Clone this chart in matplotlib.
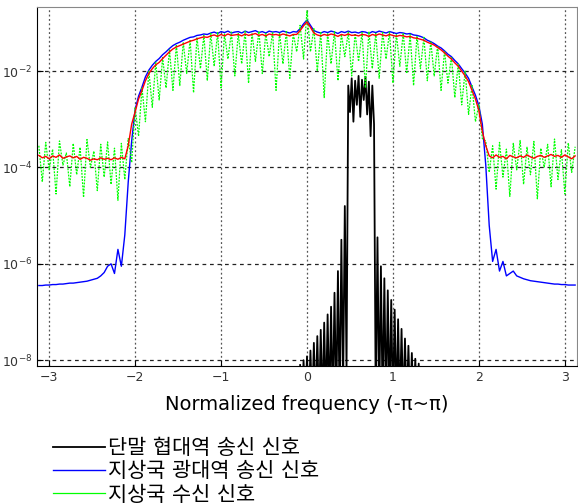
# -*- coding: utf-8 -*-
"""
Spectrum of the narrowband terminal signal, the wideband ground station
signal and the received signal (log scale, normalized frequency).
"""

import numpy as np
import matplotlib.pyplot as plt

plt.rcParams['font.family'] = ['DejaVu Sans', 'Noto Sans CJK KR']

# --- Data (log10 of the power spectral density) --------------------------
# common frequency grid for the wideband traces, -3.12 .. 3.12 step 0.04
freq = np.round(np.arange(157) * 0.04 - 3.12, 2)

blue_log = [
    -6.45, -6.45, -6.44, -6.44, -6.43, -6.43, -6.42, -6.42, -6.41, -6.40,
    -6.40, -6.39, -6.38, -6.37, -6.36, -6.34, -6.32, -6.30, -6.25, -6.18,
    -6.05, -6.00, -6.20, -5.70, -6.05, -5.40, -4.30, -3.45, -2.80, -2.52,
    -2.33, -2.12, -1.98, -1.88, -1.80, -1.74, -1.66, -1.60, -1.53, -1.47,
    -1.43, -1.40, -1.36, -1.33, -1.30, -1.29, -1.26, -1.25, -1.23, -1.24,
    -1.21, -1.19, -1.22, -1.18, -1.20, -1.17, -1.21, -1.19, -1.18, -1.21,
    -1.17, -1.20, -1.18, -1.16, -1.20, -1.18, -1.21, -1.17, -1.19, -1.18,
    -1.20, -1.17, -1.19, -1.21, -1.18, -1.19, -1.12, -1.02, -0.94, -1.05,
    -1.16, -1.19, -1.21, -1.18, -1.20, -1.17, -1.19, -1.22, -1.18, -1.20,
    -1.17, -1.20, -1.19, -1.21, -1.18, -1.19, -1.22, -1.18, -1.20, -1.17,
    -1.19, -1.21, -1.18, -1.20, -1.22, -1.20, -1.21, -1.23, -1.22, -1.25,
    -1.26, -1.28, -1.31, -1.36, -1.39, -1.43, -1.48, -1.52, -1.58, -1.65,
    -1.70, -1.78, -1.85, -1.95, -2.04, -2.15, -2.33, -2.50, -2.72, -3.10,
    -3.95, -5.20, -5.95, -5.70, -6.15, -5.95, -6.25, -6.20, -6.15, -6.25,
    -6.28, -6.31, -6.33, -6.35, -6.36, -6.37, -6.38, -6.39, -6.40, -6.41,
    -6.42, -6.42, -6.43, -6.43, -6.44, -6.44, -6.44,
]

red_log = [
    -3.75, -3.80, -3.77, -3.82, -3.76, -3.79, -3.74, -3.81, -3.78, -3.76,
    -3.80, -3.77, -3.83, -3.79, -3.81, -3.85, -3.82, -3.84, -3.80, -3.83,
    -3.81, -3.84, -3.80, -3.83, -3.79, -3.82, -3.55, -3.10, -2.85, -2.58,
    -2.40, -2.20, -2.05, -1.95, -1.87, -1.82, -1.74, -1.67, -1.60, -1.54,
    -1.50, -1.47, -1.44, -1.41, -1.38, -1.36, -1.33, -1.31, -1.29, -1.30,
    -1.27, -1.25, -1.28, -1.24, -1.27, -1.23, -1.26, -1.25, -1.24, -1.27,
    -1.23, -1.26, -1.24, -1.22, -1.26, -1.24, -1.27, -1.23, -1.25, -1.24,
    -1.26, -1.23, -1.25, -1.27, -1.24, -1.24, -1.16, -1.06, -0.98, -1.09,
    -1.21, -1.25, -1.27, -1.24, -1.26, -1.23, -1.25, -1.28, -1.24, -1.26,
    -1.23, -1.26, -1.25, -1.27, -1.24, -1.25, -1.28, -1.24, -1.26, -1.23,
    -1.25, -1.27, -1.24, -1.26, -1.28, -1.26, -1.27, -1.29, -1.28, -1.31,
    -1.32, -1.34, -1.36, -1.40, -1.43, -1.46, -1.51, -1.56, -1.62, -1.69,
    -1.75, -1.83, -1.90, -2.00, -2.10, -2.22, -2.40, -2.58, -2.82, -3.25,
    -3.55, -3.76, -3.80, -3.74, -3.79, -3.77, -3.82, -3.75, -3.78, -3.80,
    -3.76, -3.79, -3.74, -3.78, -3.81, -3.77, -3.75, -3.79, -3.76, -3.73,
    -3.77, -3.75, -3.79, -3.74, -3.78, -3.82, -3.76,
]

green_log = [
    -3.55, -4.30, -3.48, -4.05, -3.62, -4.55, -3.45, -3.95, -3.70, -4.40,
    -3.50, -4.15, -3.58, -4.62, -3.42, -4.00, -3.66, -4.48, -3.52, -4.20,
    -3.47, -4.35, -3.60, -4.68, -3.50, -4.25, -3.40, -3.90, -2.75, -3.35,
    -2.35, -3.05, -2.00, -2.75, -1.82, -2.60, -1.72, -2.35, -1.56, -2.40,
    -1.45, -2.30, -1.40, -2.05, -1.35, -2.45, -1.30, -1.95, -1.26, -2.20,
    -1.22, -1.90, -1.20, -2.35, -1.23, -1.75, -1.19, -2.10, -1.22, -1.85,
    -1.18, -2.25, -1.21, -1.80, -1.17, -2.05, -1.22, -1.70, -1.19, -2.40,
    -1.20, -1.85, -1.18, -2.15, -1.22, -1.60, -1.05, -1.75, -0.75, -1.60,
    -1.12, -2.00, -1.20, -2.55, -1.21, -1.85, -1.18, -2.20, -1.23, -1.70,
    -1.19, -2.10, -1.22, -1.80, -1.20, -2.35, -1.18, -1.95, -1.22, -2.15,
    -1.20, -1.75, -1.19, -2.25, -1.23, -1.90, -1.21, -2.05, -1.24, -2.30,
    -1.27, -1.95, -1.30, -2.20, -1.38, -2.10, -1.47, -2.40, -1.58, -2.25,
    -1.70, -2.55, -1.84, -2.70, -2.00, -2.90, -2.30, -3.05, -2.70, -3.40,
    -3.45, -4.10, -3.55, -4.45, -3.48, -4.20, -3.62, -4.60, -3.50, -4.05,
    -3.44, -4.35, -3.58, -4.15, -3.46, -4.65, -3.60, -4.00, -3.52, -4.40,
    -3.41, -4.25, -3.63, -4.55, -3.49, -4.10, -3.57,
]

# narrowband terminal signal, -0.08 .. 1.34 step 0.02
black_freq = np.round(np.arange(72) * 0.02 - 0.08, 2)
black_log = [
    -8.10, -9.00, -8.00, -9.00, -7.92, -9.00, -7.80, -9.00, -7.64, -9.00,
    -7.50, -9.00, -7.37, -9.00, -7.22, -9.00, -7.05, -9.00, -6.89, -9.00,
    -6.60, -9.00, -6.15, -9.00, -5.50, -8.60, -4.80, -8.20, -2.30, -2.85,
    -2.15, -3.05, -2.20, -2.70, -2.10, -2.95, -2.18, -2.60, -2.12, -2.90,
    -2.22, -3.35, -2.30, -3.10, -9.00, -5.45, -9.00, -6.05, -9.00, -6.30,
    -9.00, -6.55, -9.00, -6.75, -9.00, -6.95, -9.00, -7.15, -9.00, -7.35,
    -9.00, -7.55, -9.00, -7.70, -9.00, -7.85, -9.00, -7.97, -9.00, -8.07,
    -9.00, -8.15,
]

labels = ['단말 협대역 송신 신호', '지상국 광대역 송신 신호', '지상국 수신 신호']

# --- Figure ---------------------------------------------------------------
fig = plt.figure(figsize=(5.78, 5.04), dpi=100)
ax = fig.add_axes([37 / 578, 1 - 366 / 504, 540 / 578, 359 / 504])

ax.plot(black_freq, 10.0 ** np.array(black_log), color='black', lw=1.3, label=labels[0])
ax.plot(freq, 10.0 ** np.array(blue_log), color='#0000ff', lw=1.0, label=labels[1])
ax.plot(freq, 10.0 ** np.array(green_log), color='#00ff00', lw=0.9, ls=(0, (1.5, 1)), label=labels[2])
ax.plot(freq, 10.0 ** np.array(red_log), color='#ff0000', lw=1.0)

ax.set_yscale('log')
ax.set_xlim(-np.pi, np.pi)
ax.set_ylim(10 ** -8.12, 10 ** -0.67)
ax.set_xticks([-3, -2, -1, 0, 1, 2, 3])
ax.set_yticks([1e-8, 1e-6, 1e-4, 1e-2])
ax.yaxis.set_minor_locator(plt.NullLocator())
ax.tick_params(direction='in', length=4, labelsize=9, labelcolor='#333333')
ax.xaxis.grid(True, color='#555555', ls=(0, (1.5, 2)), lw=0.9)
ax.yaxis.grid(True, color='#222222', ls=(0, (3, 3)), lw=0.9)
for side in ['top', 'right']:
    ax.spines[side].set_color('#888888')

ax.set_xlabel('Normalized frequency (-π~π)', fontsize=14, labelpad=8)

leg = fig.legend(loc='upper left', bbox_to_anchor=(53 / 578, 1 - 438 / 504),
                 frameon=False, fontsize=15, handlelength=2.5, handletextpad=0.15,
                 labelspacing=0.16, borderpad=0, borderaxespad=0)
leg.get_lines()[2].set_linestyle('-')

fig.savefig('out.png', dpi=100)
